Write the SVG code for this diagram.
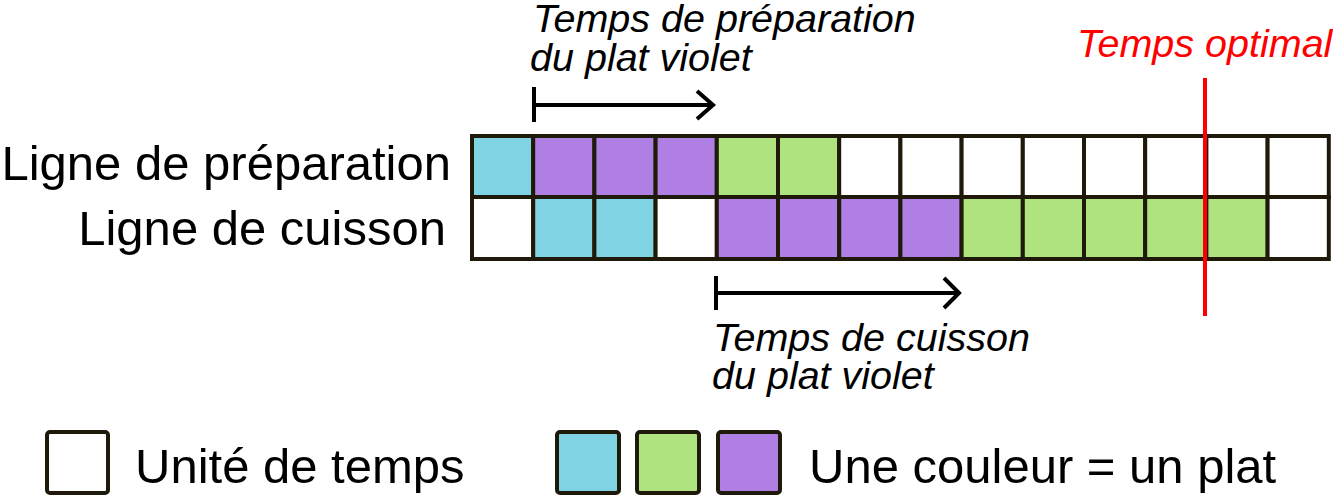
<svg xmlns="http://www.w3.org/2000/svg" width="1333" height="496" viewBox="0 0 1333 496">
<style>
.c{stroke:#1f1909;stroke-width:4;}
.w{fill:#ffffff;}
.b{fill:#7fd3e3;}
.p{fill:#b07fe3;}
.g{fill:#aee380;}
.t{font-family:"Liberation Sans",Arial,sans-serif;font-size:49px;fill:#000;}
.i{font-family:"Liberation Sans",Arial,sans-serif;font-size:39.5px;font-style:italic;fill:#000;}
.a{stroke:#000;stroke-width:4;fill:none;}
</style>
<rect width="1333" height="496" fill="#ffffff"/>
<g id="labels">
<text class="t" x="451" y="180" text-anchor="end">Ligne de préparation</text>
<text class="t" x="446" y="245" text-anchor="end">Ligne de cuisson</text>
</g>
<g id="row-preparation">
<rect class="c b" x="472" y="136" width="61.2" height="61"/>
<rect class="c p" x="533.2" y="136" width="61.2" height="61"/>
<rect class="c p" x="594.4" y="136" width="61.2" height="61"/>
<rect class="c p" x="655.6" y="136" width="61.2" height="61"/>
<rect class="c g" x="716.8" y="136" width="61.2" height="61"/>
<rect class="c g" x="778" y="136" width="61.2" height="61"/>
<rect class="c w" x="839.2" y="136" width="61.2" height="61"/>
<rect class="c w" x="900.4" y="136" width="61.2" height="61"/>
<rect class="c w" x="961.6" y="136" width="61.2" height="61"/>
<rect class="c w" x="1022.8" y="136" width="61.2" height="61"/>
<rect class="c w" x="1084" y="136" width="61.2" height="61"/>
<rect class="c w" x="1145.2" y="136" width="61.2" height="61"/>
<rect class="c w" x="1206.4" y="136" width="61.2" height="61"/>
<rect class="c w" x="1267.6" y="136" width="61.2" height="61"/>
</g>
<g id="row-cuisson">
<rect class="c w" x="472" y="197" width="61.2" height="62"/>
<rect class="c b" x="533.2" y="197" width="61.2" height="62"/>
<rect class="c b" x="594.4" y="197" width="61.2" height="62"/>
<rect class="c w" x="655.6" y="197" width="61.2" height="62"/>
<rect class="c p" x="716.8" y="197" width="61.2" height="62"/>
<rect class="c p" x="778" y="197" width="61.2" height="62"/>
<rect class="c p" x="839.2" y="197" width="61.2" height="62"/>
<rect class="c p" x="900.4" y="197" width="61.2" height="62"/>
<rect class="c g" x="961.6" y="197" width="61.2" height="62"/>
<rect class="c g" x="1022.8" y="197" width="61.2" height="62"/>
<rect class="c g" x="1084" y="197" width="61.2" height="62"/>
<rect class="c g" x="1145.2" y="197" width="61.2" height="62"/>
<rect class="c g" x="1206.4" y="197" width="61.2" height="62"/>
<rect class="c w" x="1267.6" y="197" width="61.2" height="62"/>
</g>
<g id="connectors">
<g id="arrow-preparation">
<line class="a" x1="534" y1="87" x2="534" y2="122"/>
<line class="a" x1="534" y1="105" x2="712" y2="105"/>
<polyline class="a" points="697,91 713,105 697,119"/>
</g>
<g id="arrow-cuisson">
<line class="a" x1="716" y1="276" x2="716" y2="310"/>
<line class="a" x1="716" y1="293" x2="958" y2="293"/>
<polyline class="a" points="944,278 959,293 944,308"/>
</g>
<line id="optimal-line" x1="1205" y1="78" x2="1205" y2="316" stroke="#ff0000" stroke-width="4"/>
</g>
<g id="annotations">
<text class="i" x="533" y="32">Temps de préparation</text>
<text class="i" x="530" y="71">du plat violet</text>
<text class="i" x="713" y="351">Temps de cuisson</text>
<text class="i" x="712" y="389">du plat violet</text>
<text class="i" x="1077" y="57" style="fill:#ff0000">Temps optimal</text>
</g>
<g id="legend">
<rect class="c w" x="47" y="432" width="61" height="61" rx="3"/>
<text class="t" x="135" y="483">Unité de temps</text>
<rect class="c b" x="557" y="432" width="62" height="61" rx="3"/>
<rect class="c g" x="637" y="432" width="62" height="61" rx="3"/>
<rect class="c p" x="718" y="432" width="62" height="61" rx="3"/>
<text class="t" x="809" y="483">Une couleur = un plat</text>
</g>
</svg>
